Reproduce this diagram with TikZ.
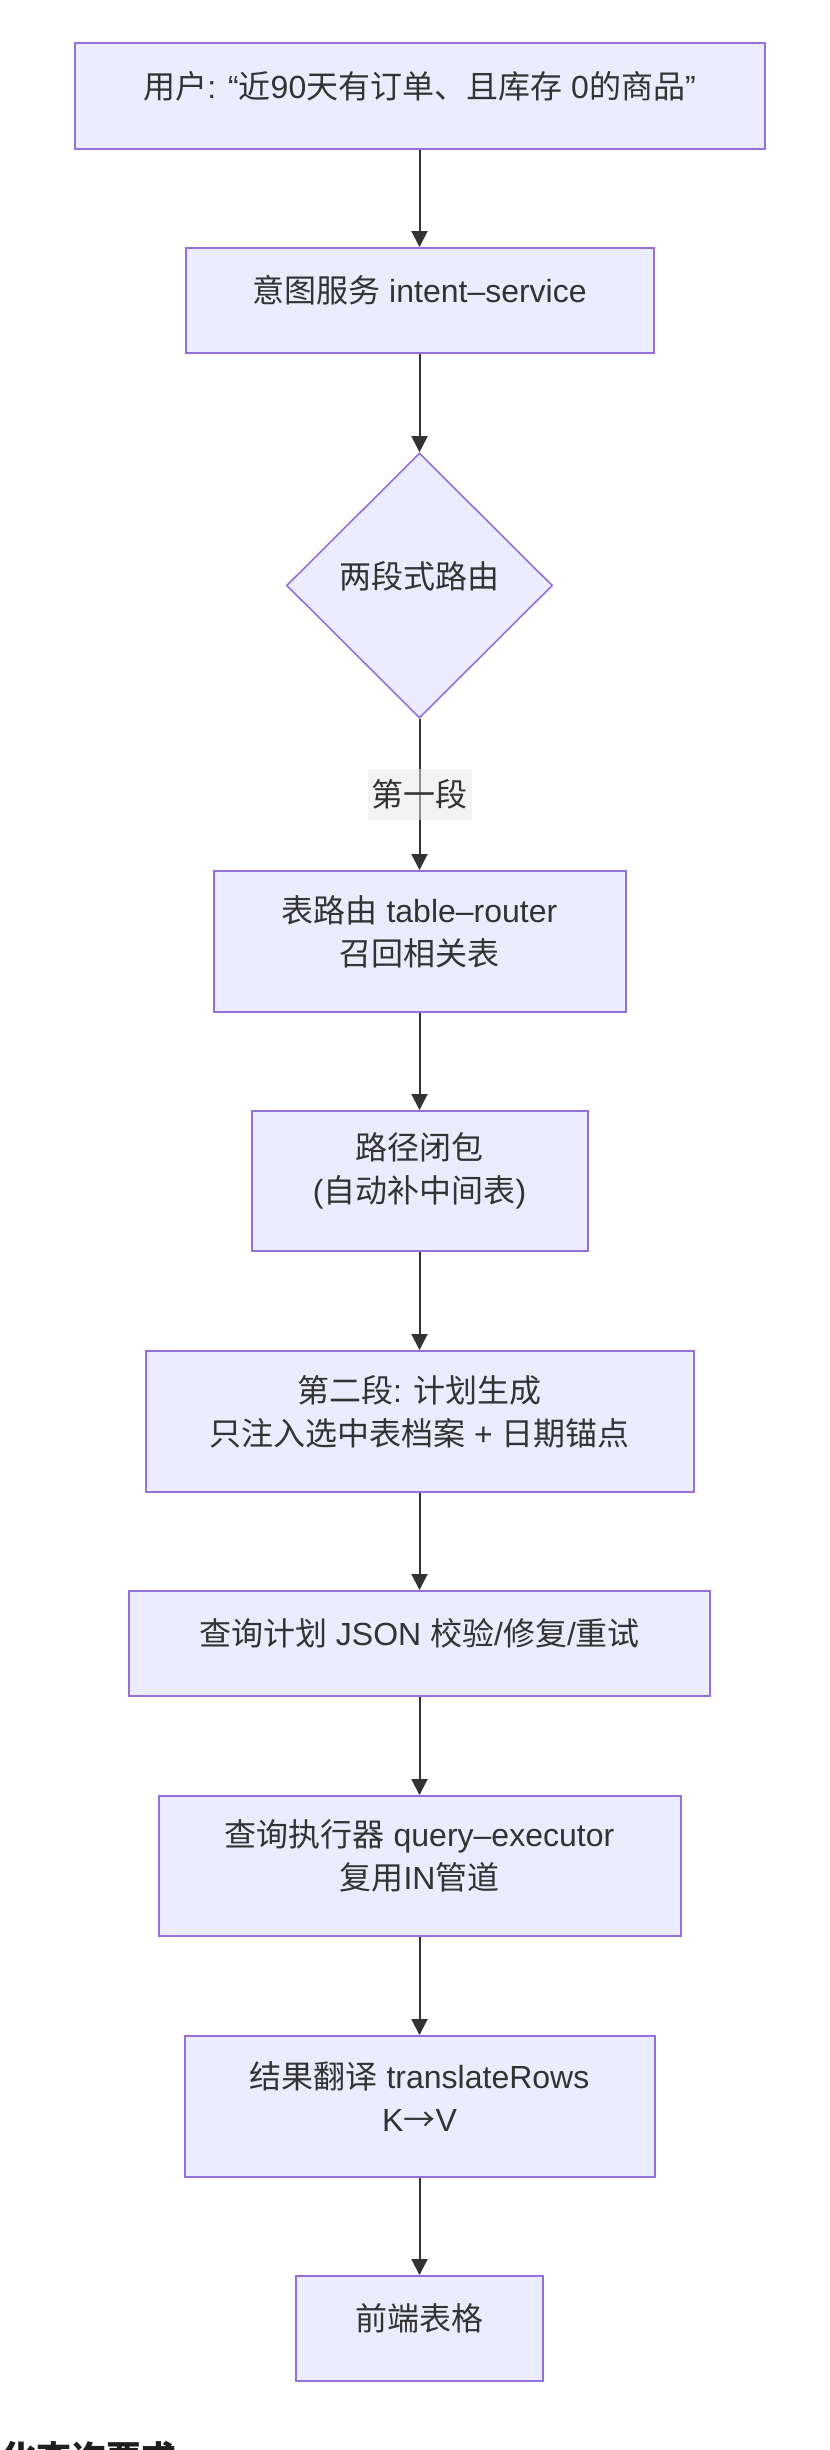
\documentclass[tikz,border=0pt]{standalone}
\usepackage{fontspec}
\setmainfont{Noto Sans CJK SC}
\newfontfamily\lfont{Liberation Sans}
\usetikzlibrary{arrows.meta,shapes.geometric}
\definecolor{nodefill}{HTML}{ECECFF}
\definecolor{nodeline}{HTML}{9370DB}
\definecolor{ink}{HTML}{333333}
\definecolor{lblbg}{HTML}{E8E8E8}
\newcommand\lf[1]{{\lfont#1}}
\begin{document}
\begin{tikzpicture}[x=1pt,y=1pt,
  box/.style={draw=nodeline, fill=nodefill, line width=2pt, rectangle, inner sep=0pt},
  dia/.style={draw=nodeline, fill=nodefill, line width=1.6pt, diamond, aspect=1, inner sep=0pt},
  txt/.style={text=ink, font=\fontsize{32}{43}\selectfont, align=center, inner sep=0pt},
  lbl/.style={fill=lblbg, fill opacity=0.5, text opacity=1, text=ink, font=\fontsize{32}{43}\selectfont, inner sep=0pt, minimum width=104pt, minimum height=51pt},
  flow/.style={draw=ink, line width=2pt, -{Triangle[length=16pt,width=16pt]}},
 ]
\fill[white] (0,0) rectangle (830,-2450);
\useasboundingbox (0,0) rectangle (830,-2450);

\node[box, minimum width=690pt, minimum height=106pt,
  label={[txt,yshift=10pt]center:{用户\lf{: “}近\lf{90}天有订单、且库存\lf{ 0}的商品\lf{”}}}] (n1) at (419.5,-96) {};
\node[box, minimum width=468pt, minimum height=105pt,
  label={[txt,yshift=10pt]center:{意图服务\lf{ intent–service}}}] (n2) at (419.5,-300.5) {};
\node[dia, minimum width=266pt, minimum height=265pt,
  label={[txt,yshift=9pt]center:{两段式路由}}] (d) at (419.5,-585.5) {};
\node[box, minimum width=412pt, minimum height=141pt,
  label={[txt,yshift=10pt]center:{表路由\lf{ table–router}\\召回相关表}}] (n3) at (419.5,-941.5) {};
\node[box, minimum width=336pt, minimum height=140pt,
  label={[txt,yshift=10pt]center:{路径闭包\\\lf{(}自动补中间表\lf{)}}}] (n4) at (419.5,-1181) {};
\node[box, minimum width=548pt, minimum height=141pt,
  label={[txt,yshift=10pt]center:{第二段\lf{: }计划生成\\只注入选中表档案\lf{ + }日期锚点}}] (n5) at (419.5,-1421.5) {};
\node[box, minimum width=581pt, minimum height=105pt,
  label={[txt,yshift=10pt]center:{查询计划\lf{ JSON }校验\lf{/}修复\lf{/}重试}}] (n6) at (419.5,-1643.5) {};
\node[box, minimum width=522pt, minimum height=140pt,
  label={[txt,yshift=10pt]center:{查询执行器\lf{ query–executor}\\复用\lf{IN}管道}}] (n7) at (419.5,-1866) {};
\node[box, minimum width=470pt, minimum height=141pt,
  label={[txt,yshift=10pt]center:{结果翻译\lf{ translateRows}\\\lf{K}→\lf{V}}}] (n8) at (419.5,-2106.5) {};
\node[box, minimum width=247pt, minimum height=105pt,
  label={[txt,yshift=10pt]center:{前端表格}}] (n9) at (419.5,-2328.5) {};

\draw[flow] (n1.south) -- (n2.north);
\draw[flow] (n2.south) -- (d.north);
\draw[flow] (d.south) -- (n3.north);
\node[lbl] (e1) at (419.5,-794.5) {第一段};
\draw[flow] (n3.south) -- (n4.north);
\draw[flow] (n4.south) -- (n5.north);
\draw[flow] (n5.south) -- (n6.north);
\draw[flow] (n6.south) -- (n7.north);
\draw[flow] (n7.south) -- (n8.north);
\draw[flow] (n8.south) -- (n9.north);

\node[font=\fontsize{35}{35}\selectfont\bfseries, text=black!88, anchor=base west, inner sep=0pt] (h) at (1,-2471) {化查询要求};
\end{tikzpicture}
\end{document}
